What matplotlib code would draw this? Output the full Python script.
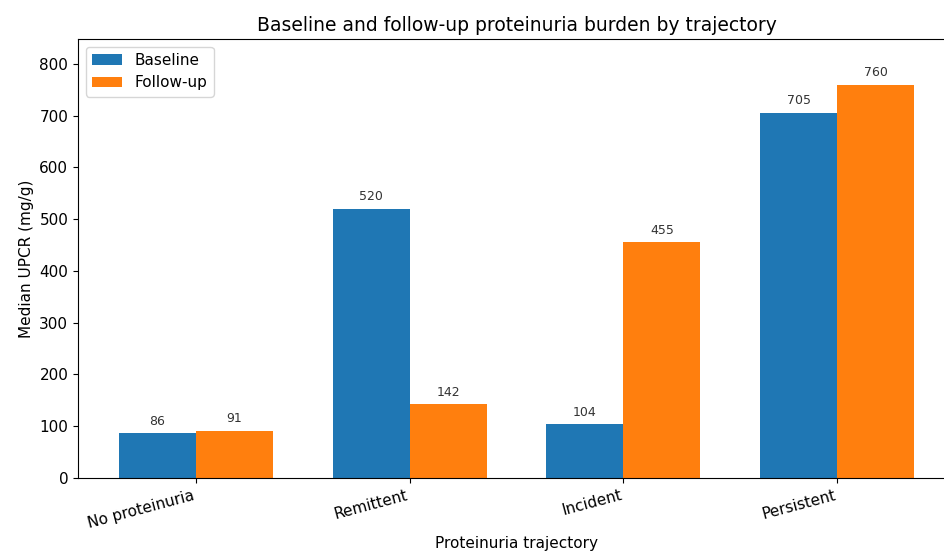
import numpy as np
import matplotlib.pyplot as plt

# Median UPCR by proteinuria trajectory
categories = ["No proteinuria", "Remittent", "Incident", "Persistent"]
baseline = [86, 520, 104, 705]
followup = [91, 142, 455, 760]

x = np.arange(len(categories))
width = 0.36

fig = plt.figure(figsize=(9.45, 5.57), dpi=100)
ax = fig.add_axes([78 / 945, 79 / 557, 877 / 945, 439 / 557])

b1 = ax.bar(x - width / 2, baseline, width, label="Baseline", color="#1f77b4")
b2 = ax.bar(x + width / 2, followup, width, label="Follow-up", color="#ff7f0e")

for bars in (b1, b2):
    for bar in bars:
        h = bar.get_height()
        ax.annotate(f"{h:.0f}", (bar.get_x() + bar.get_width() / 2, h),
                    xytext=(0, 4), textcoords="offset points",
                    ha="center", va="bottom", fontsize=9, color="#333333")

ax.set_xlim(-0.55, 3.55)
ax.set_ylim(0, 848)
ax.set_xticks(x)
ax.set_xticklabels(categories, rotation=15, ha="right", fontsize=11)
ax.tick_params(axis="y", labelsize=11)
ax.set_ylabel("Median UPCR (mg/g)", fontsize=11)
ax.set_xlabel("Proteinuria trajectory", fontsize=11)
ax.set_title("Baseline and follow-up proteinuria burden by trajectory", fontsize=13.5)
ax.legend(loc="upper left", fontsize=11)

plt.savefig("out.png", dpi=100)
